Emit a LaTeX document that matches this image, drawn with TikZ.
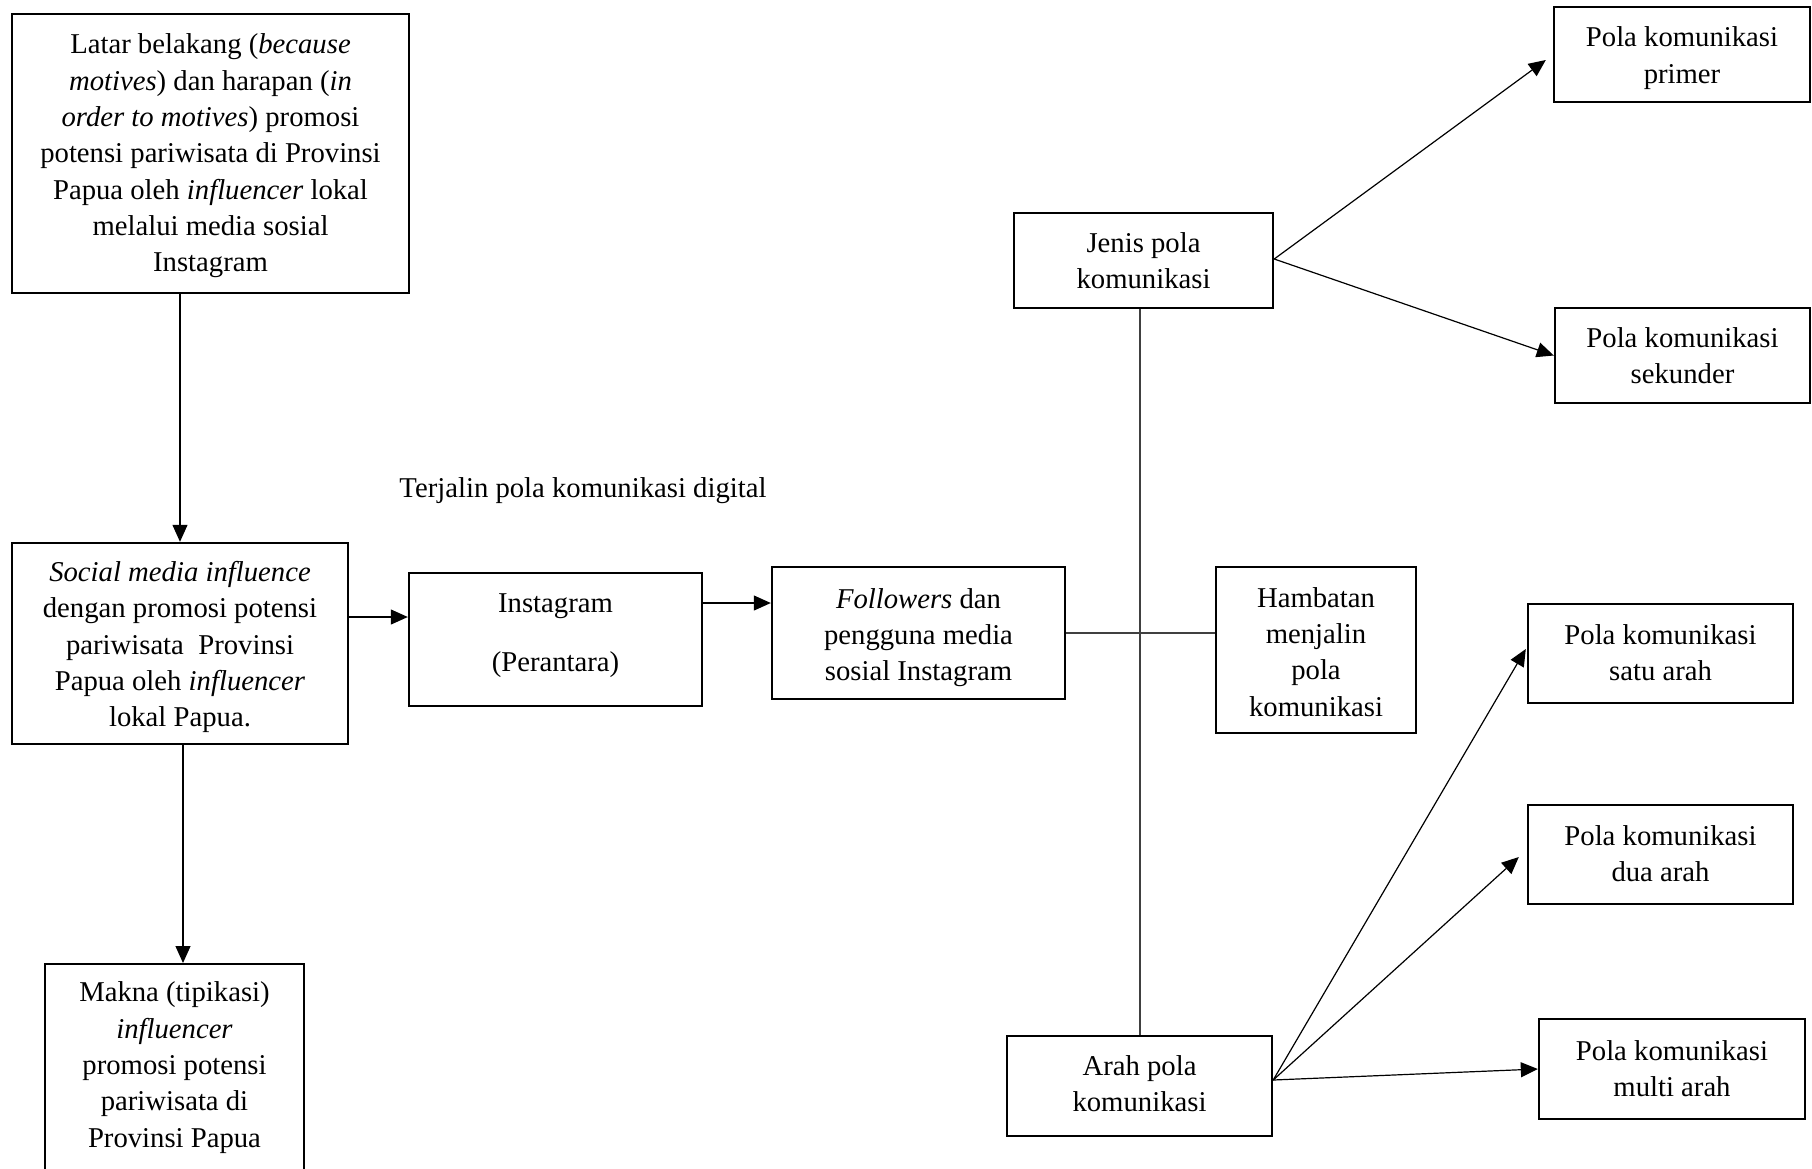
\documentclass[tikz,border=0pt]{standalone}
\usepackage{fontspec}
\setmainfont{Liberation Serif}
\usetikzlibrary{arrows.meta,calc}
\newcommand\myfont{\fontsize{28.7}{36.3}\selectfont}
\begin{document}
\begin{tikzpicture}[x=1pt,y=-1pt,
  box/.style={draw, line width=2.4pt, inner sep=0pt},
  txt/.style={inner sep=0pt, align=center, font=\myfont},
  arr/.style={line width=1.2pt, -{Triangle[length=17pt,width=15pt]}},
  plain/.style={line width=1.3pt, draw=black!75}]
\clip (0,0) rectangle (1812,1168);
\fill[white] (0,0) rectangle (1812,1168);

% left column
\node[box, minimum width=397pt, minimum height=279pt] (box1) at (210.5,153.5) {};
\node[txt] (box1t) at ($(box1.center)+(0,2.5)$)
  {Latar belakang (\textit{because}\\ \textit{motives}) dan harapan (\textit{in}\\ \textit{order to motives}) promosi\\ potensi pariwisata di Provinsi\\ Papua oleh \textit{influencer} lokal\\ melalui media sosial\\ Instagram};
\node[box, minimum width=336pt, minimum height=201pt] (box2) at (180,643.5) {};
\node[txt] (box2t) at ($(box2.center)+(0,3.5)$)
  {\textit{Social media influence}\\ dengan promosi potensi\\ pariwisata\ \ Provinsi\\ Papua oleh \textit{influencer}\\ lokal Papua.};
\node[box, minimum width=259pt, minimum height=260pt, anchor=north] (box3) at (174.5,963) {};
\node[txt] (box3t) at (174.5,1067.5)
  {Makna (tipikasi)\\ \textit{influencer}\\ promosi potensi\\ pariwisata di\\ Provinsi Papua};

% middle
\node[txt] (lbl) at (583,490.5) {Terjalin pola komunikasi digital};
\node[box, minimum width=293pt, minimum height=133pt] (insta) at (555.5,639.5) {};
\node[txt] (instat) at ($(insta.center)+(0,-3.5)$) {Instagram\\[22.7pt](Perantara)};
\node[box, minimum width=293pt, minimum height=132pt] (foll) at (918.5,633) {};
\node[txt] (follt) at ($(foll.center)+(0,4.5)$) {\textit{Followers} dan\\ pengguna media\\ sosial Instagram};
\node[box, minimum width=200pt, minimum height=166pt] (hamb) at (1316,650) {};
\node[txt] (hambt) at ($(hamb.center)+(0,2)$) {Hambatan\\ menjalin\\ pola\\ komunikasi};
\node[box, minimum width=259pt, minimum height=95pt] (jenis) at (1143.5,260.5) {};
\node[txt] (jenist) at (jenis.center) {Jenis pola\\ komunikasi};
\node[box, minimum width=265pt, minimum height=100pt] (arah) at (1139.5,1086) {};
\node[txt] (araht) at ($(arah.center)+(0,-2)$) {Arah pola\\ komunikasi};

% right column
\node[box, minimum width=256pt, minimum height=95pt] (primer) at (1682,54.5) {};
\node[txt] (primert) at ($(primer.center)+(0,3.5)$) {Pola komunikasi\\ primer};
\node[box, minimum width=255pt, minimum height=95pt] (sekunder) at (1682.5,355.5) {};
\node[txt] (sekundert) at (sekunder.center) {Pola komunikasi\\ sekunder};
\node[box, minimum width=265pt, minimum height=99pt] (satu) at (1660.5,653.5) {};
\node[txt] (satut) at ($(satu.center)+(0,-1)$) {Pola komunikasi\\ satu arah};
\node[box, minimum width=265pt, minimum height=99pt] (dua) at (1660.5,854.5) {};
\node[txt] (duat) at ($(dua.center)+(0,-1)$) {Pola komunikasi\\ dua arah};
\node[box, minimum width=266pt, minimum height=100pt] (multi) at (1672,1069) {};
\node[txt] (multit) at (multi.center) {Pola komunikasi\\ multi arah};

% helper coordinates
\coordinate (xa) at (180,0);
\coordinate (xb) at (183,0);
\coordinate (ya) at (0,617);
\coordinate (yb) at (0,603);
\coordinate (xc) at (1140,0);

% connectors
\draw[arr] (box1.south -| xa) -- (box2.north -| xa);
\draw[arr] (box2.south -| xb) -- (box3.north -| xb);
\draw[arr] (box2.east |- ya) -- (insta.west |- ya);
\draw[arr] (insta.east |- yb) -- (foll.west |- yb);
\draw[plain] (foll.east) -- (hamb.west |- foll.east);
\draw[plain] (jenis.south -| xc) -- (arah.north -| xc);

\coordinate (js) at ($(jenis.east)+(0,-1.5)$);
\draw[arr] (js) -- ($(primer.west)+(-7,5.5)$);
\draw[arr] (js) -- (sekunder.west);

\coordinate (as) at ($(arah.east)+(0,-6)$);
\draw[arr] (as) -- ($(satu.west)+(-1,-4.5)$);
\draw[arr] (as) -- ($(dua.west)+(-8,2.5)$);
\draw[arr] (as) -- (multi.west);
\end{tikzpicture}
\end{document}
